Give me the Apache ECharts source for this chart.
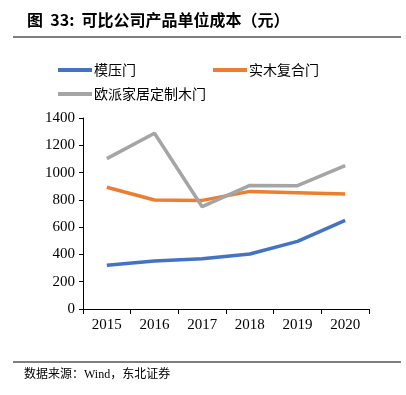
<!DOCTYPE html>
<html><head><meta charset="utf-8">
<script src="https://cdn.jsdelivr.net/npm/echarts@6/dist/echarts.min.js"></script>
<style>html,body{margin:0;padding:0;background:#fff}#c{width:406px;height:395px}</style>
</head><body><div id="c"></div>
<script>
const categories = ['2015','2016','2017','2018','2019','2020'];
const moulded = [320, 352, 369, 403, 496, 650];
const solidWood = [892, 799, 796, 862, 853, 843];
const oupai = [1102, 1288, 750, 906, 904, 1051];
const seriesNames = ['模压门','实木复合门','欧派家居定制木门'];
const colors = ['#4472C4','#ED7D31','#A5A5A5'];

const chart = echarts.init(document.getElementById('c'));
const serif = '"Liberation Serif","Noto Sans CJK SC",serif';
const legendBase = {itemWidth:34, itemHeight:4, icon:'rect',
  textStyle:{fontSize:14, color:'#000', fontFamily:'"Noto Sans CJK SC"', padding:[0,0,0,-3]}};
chart.setOption({
  animation:false,
  color: colors,
  title:{text:'图  33:  可比公司产品单位成本（元）', left:22, top:7,
    textStyle:{fontSize:16, fontWeight:'bold', color:'#000', fontFamily:'"Noto Sans CJK SC","Liberation Serif"'}},
  legend:[
    Object.assign({left:53, top:58, data:[seriesNames[0]]}, legendBase),
    Object.assign({left:208, top:58, data:[seriesNames[1]]}, legendBase),
    Object.assign({left:53, top:82, data:[seriesNames[2]]}, legendBase)
  ],
  grid:{left:83, right:37, top:118, bottom:86},
  xAxis:{type:'category', data:categories, boundaryGap:true,
    axisLine:{lineStyle:{color:'#000', width:1}},
    axisTick:{show:true, length:5, lineStyle:{color:'#000'}},
    axisLabel:{fontSize:15, color:'#000', fontFamily:serif, margin:9}},
  yAxis:{type:'value', min:0, max:1400, interval:200,
    axisLine:{show:true, lineStyle:{color:'#000'}},
    axisTick:{show:true, length:4, lineStyle:{color:'#000'}},
    splitLine:{show:false},
    axisLabel:{fontSize:15, color:'#000', fontFamily:serif, margin:8, formatter:v=>String(v)}},
  series:[
    {name:seriesNames[0], type:'line', data:moulded, symbol:'none', lineStyle:{width:3.5}},
    {name:seriesNames[1], type:'line', data:solidWood, symbol:'none', lineStyle:{width:3.5}},
    {name:seriesNames[2], type:'line', data:oupai, symbol:'none', lineStyle:{width:3.5}}
  ],
  graphic:[
    {type:'line', shape:{x1:13,y1:37,x2:401,y2:37}, style:{stroke:'#555', lineWidth:1.5}},
    {type:'line', shape:{x1:13,y1:362,x2:401,y2:362}, style:{stroke:'#555', lineWidth:1.5}},
    {type:'text', left:24, top:369, style:{text:'数据来源：Wind，东北证券', fill:'#000', font:'12px "Liberation Serif","Noto Sans CJK SC"'}}
  ]
});
</script></body></html>
